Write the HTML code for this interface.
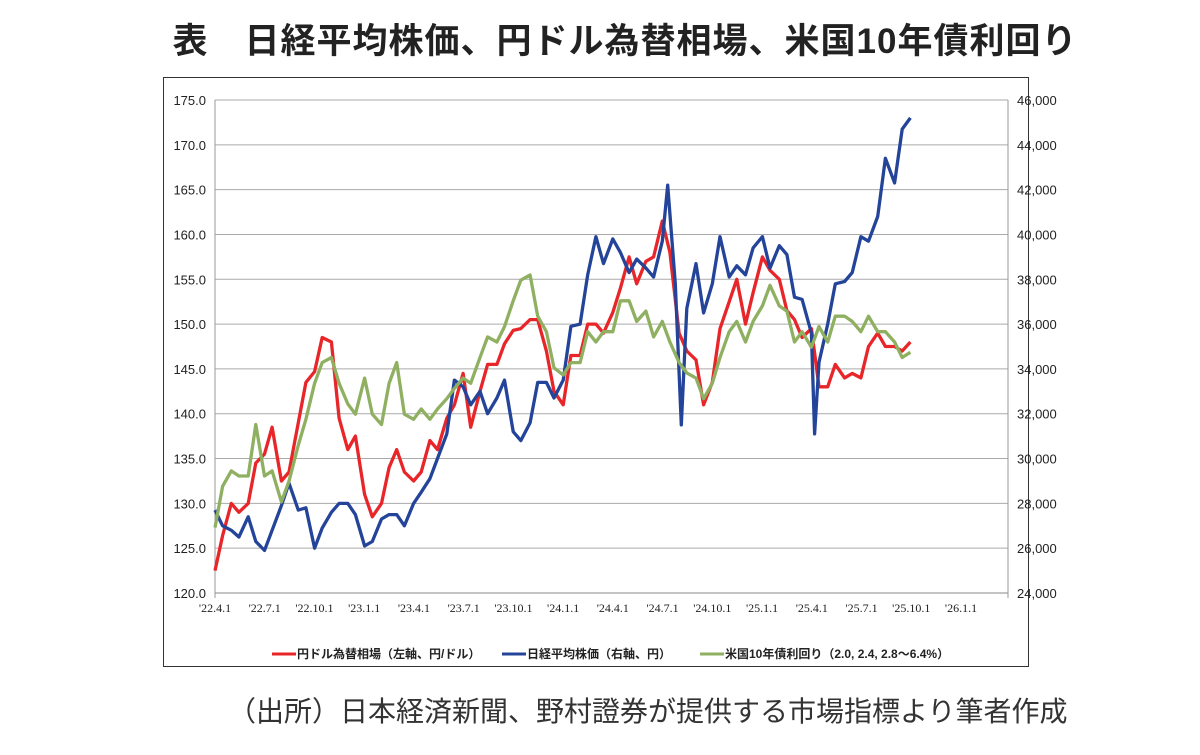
<!DOCTYPE html>
<html><head><meta charset="utf-8"><style>
body{margin:0;width:1200px;height:755px;background:#fff;font-family:"Liberation Sans","Noto Sans CJK JP",sans-serif;overflow:hidden}
#title{position:absolute;left:0;width:1250px;top:13px;text-align:center;font-size:35px;font-weight:bold;color:#222;letter-spacing:1px}
#frame{position:absolute;left:163px;top:77px;width:866px;height:590px;border:1.5px solid #333;box-sizing:border-box}
#foot{position:absolute;left:228px;top:690px;font-size:28px;color:#333}
svg{position:absolute;left:0;top:0}
</style></head><body>
<div id="title">表　日経平均株価、円ドル為替相場、米国10年債利回り</div>
<div id="frame"></div>
<svg id="chart" width="1200" height="755"></svg>
<div id="foot">（出所）日本経済新聞、野村證券が提供する市場指標より筆者作成</div>
<script>
const leftTicks=[120,125,130,135,140,145,150,155,160,165,170,175];
const rightTicks=[24000,26000,28000,30000,32000,34000,36000,38000,40000,42000,44000,46000];
const xTickLabels=["'22.4.1","'22.7.1","'22.10.1","'23.1.1","'23.4.1","'23.7.1","'23.10.1","'24.1.1","'24.4.1","'24.7.1","'24.10.1","'25.1.1","'25.4.1","'25.7.1","'25.10.1","'26.1.1"];
const usdjpy=[122.5,126.4,130,129,130,134.5,135.5,138.5,132.5,133.5,139,143.5,144.7,148.5,148,139.5,136,137.5,
131,128.5,130,134,136,133.5,132.5,133.5,137,136,139.5,141,144.5,138.5,142.5,145.5,145.5,147.8,149.3,149.5,150.5,150.5,147,142.5,
141,146.5,146.5,150,150,149,151.3,154,157.5,154.5,157,157.5,161.5,158,149,147,146,141,143.5,149.5,152.5,155,150,153.5,
157.5,156,155,151.5,150.5,148.5,149.5,143,143,145.5,144,144.5,144,147.5,149,147.5,147.5,147,148];
const us10y=[2.4,2.8,2.95,2.9,2.9,3.4,2.9,2.95,2.65,2.85,3.2,3.45,3.8,4.0,4.05,3.8,3.6,3.5,
3.85,3.5,3.4,3.8,4.0,3.5,3.45,3.55,3.45,3.55,3.65,3.75,3.85,3.8,4.05,4.25,4.2,4.35,4.6,4.8,4.85,4.45,4.3,3.95,
3.88,4.0,4.0,4.3,4.2,4.3,4.3,4.6,4.6,4.4,4.5,4.25,4.4,4.2,4.0,3.9,3.85,3.65,3.8,4.05,4.3,4.4,4.2,4.4,
4.55,4.75,4.55,4.5,4.2,4.3,4.15,4.35,4.2,4.45,4.45,4.4,4.3,4.45,4.3,4.3,4.2,4.05,4.1];
const nikkeiDates=["2022-04-01","2022-04-15","2022-05-01","2022-05-15","2022-06-01","2022-06-15","2022-07-01","2022-07-15","2022-08-01","2022-08-15","2022-09-01","2022-09-15","2022-10-01","2022-10-15","2022-11-01","2022-11-15","2022-12-01","2022-12-15",
"2023-01-01","2023-01-15","2023-02-01","2023-02-15","2023-03-01","2023-03-15","2023-04-01","2023-04-15","2023-05-01","2023-05-15","2023-06-01","2023-06-15","2023-07-01","2023-07-15","2023-08-01","2023-08-15","2023-09-01","2023-09-15","2023-10-01","2023-10-15","2023-11-01","2023-11-15","2023-12-01","2023-12-15",
"2024-01-01","2024-01-15","2024-02-01","2024-02-15","2024-03-01","2024-03-15","2024-04-01","2024-04-15","2024-05-01","2024-05-15","2024-06-01","2024-06-15","2024-07-01","2024-07-11","2024-07-25","2024-08-05","2024-08-15","2024-09-01","2024-09-15","2024-10-01","2024-10-15","2024-11-01","2024-11-15","2024-12-01","2024-12-15",
"2025-01-01","2025-01-15","2025-02-01","2025-02-15","2025-03-01","2025-03-15","2025-04-01","2025-04-07","2025-04-15","2025-05-01","2025-05-15","2025-06-01","2025-06-15","2025-07-01","2025-07-15","2025-08-01","2025-08-15","2025-09-01","2025-09-15","2025-09-30"];
const nikkei=[27700,27000,26800,26500,27400,26300,25900,26800,27900,28900,27700,27800,26000,26900,27600,28000,28000,27500,
26100,26300,27300,27500,27500,27000,28000,28500,29100,30000,31100,33500,33200,32400,33000,32000,32700,33500,31200,30800,31600,33400,33400,32700,
33500,35900,36000,38200,39900,38700,39800,39200,38300,38900,38500,38100,39700,42200,37800,31500,36700,38700,36500,37800,39900,38100,38600,38200,39400,
39900,38500,39500,39100,37200,37100,35600,31100,34300,36000,37800,37900,38300,39900,39700,40800,43400,42300,44700,45200];

const NS="http://www.w3.org/2000/svg",svg=document.getElementById('chart');
const L=215,R=1008,T=100,B=593,x0=Date.UTC(2022,3,1),pxPerDay=(961-215)/((Date.UTC(2026,0,1)-x0)/864e5);
const xDate=d=>{const p=d.split('-').map(Number);return L+(Date.UTC(p[0],p[1]-1,p[2])-x0)/864e5*pxPerDay;};
const yL=v=>B-(v-120)/55*(B-T);
const yR=v=>B-(v-24000)/22000*(B-T);
const yY=v=>yL(148+(v-4.2)*11.5);
const usdDates=[];for(let y=2022;y<=2025;y++)for(let m=1;m<=12;m++){if(y==2022&&m<4)continue;if(y==2025&&m>9)continue;for(const d of[1,15])usdDates.push(y+'-'+String(m).padStart(2,'0')+'-'+String(d).padStart(2,'0'));}
usdDates.push('2025-09-30');
function el(t,a,txt){const e=document.createElementNS(NS,t);for(const k in a)e.setAttribute(k,a[k]);if(txt!=null)e.textContent=txt;svg.appendChild(e);return e;}
leftTicks.forEach((v,i)=>{const y=yL(v);
 const g=el('line',{x1:L,x2:R,y1:y,y2:y,stroke:i==0?'#888':'#aaa','stroke-width':1});
 
 const t=el('text',{x:206,y:y+5,'text-anchor':'end','font-size':13,fill:'#222'},v.toFixed(1));
 });
rightTicks.forEach(v=>{const y=yR(v);
 const t=el('text',{x:1017,y:y+5,'font-size':13,fill:'#222'},v.toLocaleString('en-US'));
 });
const a1=el('line',{x1:L,x2:L,y1:T,y2:B+5,stroke:'#999'});
const a2=el('line',{x1:R,x2:R,y1:T,y2:B+5,stroke:'#999'});
xTickLabels.forEach((s,i)=>{const x=L+i*(961-215)/15;
 const t=el('text',{x:x,y:612,'text-anchor':'middle','font-size':12,fill:'#222','font-family':'Liberation Serif, serif'},s);
 });
function line(dates,vals,fy,col,name){const pts=vals.map((v,i)=>xDate(dates[i]).toFixed(1)+','+fy(v).toFixed(1)).join(' ');
 const p=el('polyline',{points:pts,fill:'none',stroke:col,'stroke-width':3.3,'stroke-linejoin':'round'});
 }
line(usdDates,usdjpy,yL,'#e8262a','usdjpy-line');
line(nikkeiDates,nikkei,yR,'#24449a','nikkei-line');
line(usdDates,us10y,yY,'#8fb061','us10y-line');
const leg=[['#e8262a','円ドル為替相場（左軸、円/ドル）',272],['#24449a','日経平均株価（右軸、円）',502],['#8fb061','米国10年債利回り（2.0, 2.4, 2.8～6.4%）',700]];
leg.forEach(l=>{const k=el('line',{x1:l[2],x2:l[2]+24,y1:654,y2:654,stroke:l[0],'stroke-width':3});
 
 const t=el('text',{x:l[2]+25,y:658,'font-size':12,'font-weight':'bold',fill:'#222'},l[1]);
 });
</script>
</body></html>
